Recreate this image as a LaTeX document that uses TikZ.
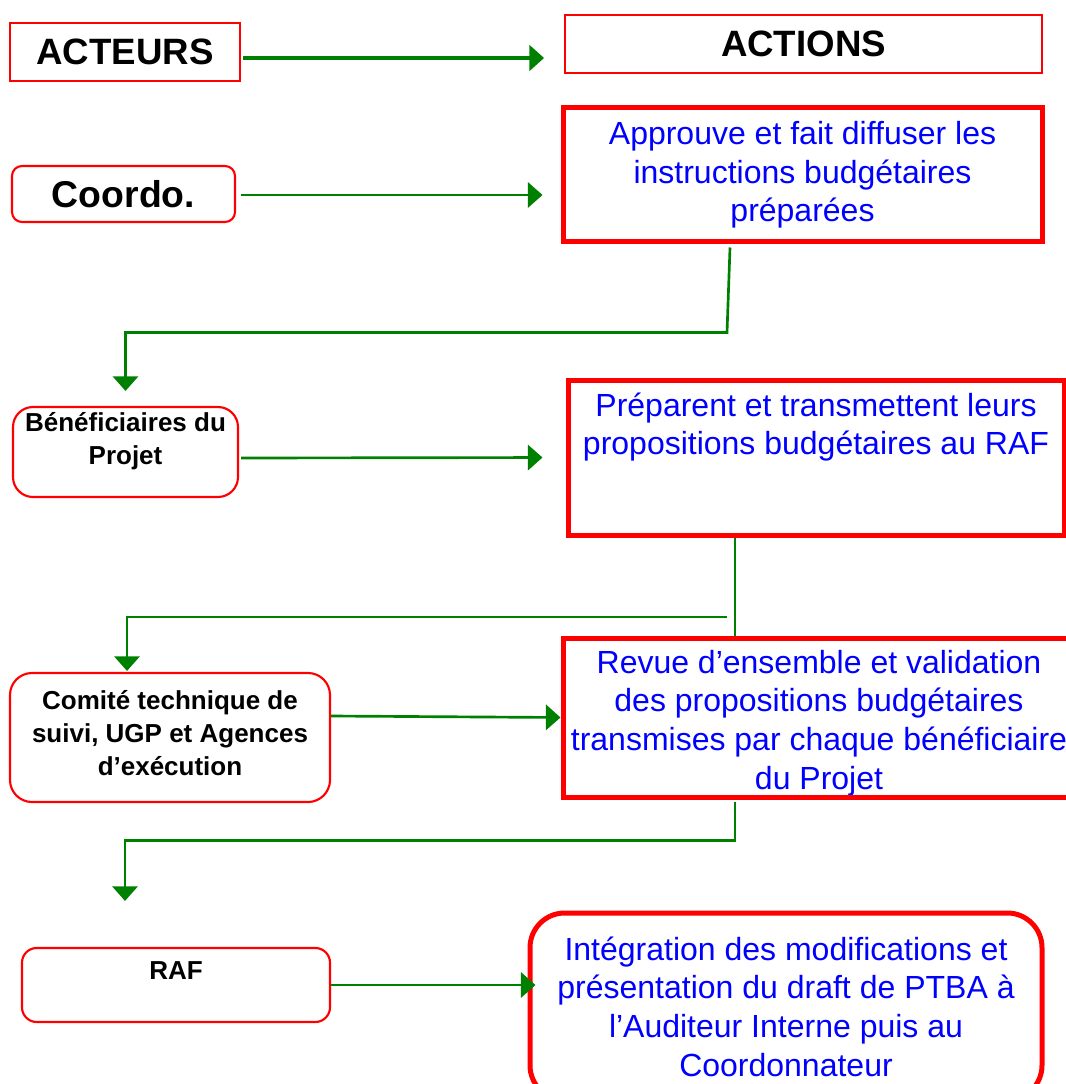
\documentclass[tikz,border=0pt]{standalone}
\usepackage{fontspec}
\setmainfont{Liberation Sans}
\usetikzlibrary{arrows.meta,calc}
\definecolor{fgreen}{RGB}{0,128,0}
\begin{document}
\begin{tikzpicture}[x=0.75pt,y=-0.75pt]
\tikzset{
 hdrbox/.style={draw=red, line width=1.4pt, inner sep=0pt, font=\bfseries\fontsize{27.5}{33}\selectfont},
 actorbox/.style={draw=red, line width=1.6pt, inner sep=0pt},
 actionbox/.style={draw=red, line width=3.75pt, inner sep=0pt},
 actortext/.style={font=\bfseries\fontsize{19.5}{24.75}\selectfont, align=center, inner sep=0pt},
 actiontext/.style={text=blue, font=\fontsize{24}{29}\selectfont, align=center, inner sep=0pt},
 flow/.style={draw=fgreen, line width=2pt},
 flowarrow/.style={flow, -{Triangle[length=11pt,width=19pt]}},
}
\clip (0,0) rectangle (1066,1084);
% separate texts
\node[actortext] (benef-t) at (125.5,441) {Bénéficiaires du\\Projet};
\node[actiontext] (act2-t) at (816,427) {Préparent et transmettent leurs\\propositions budgétaires au RAF};
\node[actiontext] (act3-t) at (819,723) {Revue d’ensemble et validation\\des propositions budgétaires\\transmises par chaque bénéficiaire\\du Projet};
\node[actortext] (raf-t) at (176,971) {RAF};
\node[actortext] (comite-t) at (170,733) {Comité technique de\\suivi, UGP et Agences\\d’exécution};
% boxes
\node[hdrbox, minimum width=172.5pt, minimum height=43.5pt] (acteurs) at (125,52) {ACTEURS};
\node[hdrbox, minimum width=357.75pt, minimum height=43.5pt] (actions) at (803.5,44) {ACTIONS};
\node[actionbox, actiontext, minimum width=359.25pt, minimum height=100.5pt] (act1) at (802.5,175) {Approuve et fait diffuser les\\instructions budgétaires\\préparées};
\node[actorbox, rounded corners=7.5pt, minimum width=167.25pt, minimum height=42pt, font=\bfseries\fontsize{28}{32}\selectfont] (coordo) at (123.5,194) {Coordo.};
\node[actorbox, rounded corners=15pt, minimum width=168.75pt, minimum height=67.5pt] (benef) at (125.5,452) {};
\node[actionbox, minimum width=372pt, minimum height=116.25pt] (act2) at (816,457.5) {};
\node[actorbox, rounded corners=16.5pt, minimum width=240pt, minimum height=96.75pt] (comite) at (170,737.5) {};
\node[actionbox, minimum width=381.75pt, minimum height=119.25pt] (act3) at (817.5,717.5) {};
\node[actorbox, rounded corners=11pt, minimum width=231pt, minimum height=55.5pt] (raf) at (176,985) {};
\node[actionbox, actiontext, rounded corners=26pt, minimum width=384pt, minimum height=140.25pt] (act4) at (786,1006.5) {Intégration des modifications et\\présentation du draft de PTBA à\\l’Auditeur Interne puis au\\Coordonnateur};
% connectors
\draw[flowarrow, line width=3pt, shorten >=15pt] ($(acteurs.east)+(2,6)$) -- ($(actions.west)+(0,14)$);
\draw[flowarrow, shorten >=13.5pt] ($(coordo.east)+(5,1)$) -- ($(act1.west)+(0,20)$);
\draw[flowarrow, shorten >=11.25pt] ($(act1.south)+(-72.5,3)$) -- ($(act1.south)+(-75.5,88)$) -| (benef.north);
\draw[flowarrow, shorten >=17.25pt] ($(benef.east)+(2,6)$) -- (act2.west);
\draw[flow] ($(act2.south)+(-81,0)$) -- ($(act3.north)+(-82.5,0)$);
\coordinate (h2) at (727,617);
\draw[flowarrow] (h2) -| ($(comite.north)+(-43,-1)$);
\draw[flowarrow] ($(comite.east)+(0,-21.5)$) -- (act3.west);
\draw[flowarrow] ($(act3.south)+(-82.5,2)$) -- ($(act3.south)+(-82.5,41)$) -| ($(raf.north)+(-51,-46)$);
\draw[flowarrow, shorten >=-6pt] (raf.east) -- (raf.east -| act4.west);
\end{tikzpicture}
\end{document}
